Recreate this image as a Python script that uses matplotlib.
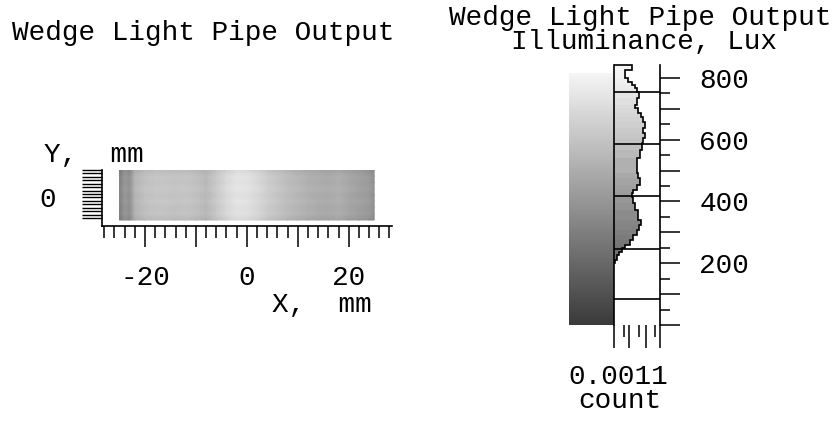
import numpy as np
import matplotlib.pyplot as plt
from matplotlib.colors import LinearSegmentedColormap, Normalize
from matplotlib.cm import ScalarMappable

plt.rcParams['font.family'] = ['Liberation Mono', 'DejaVu Sans Mono']

# illuminance across the wedge exit face (lux), sampled along X at several rows
img_x = [-25, -24, -23, -22, -20, -18, -16, -14, -12, -10, -8, -6, -4, -2,
         0, 2, 4, 6, 8, 10, 12, 14, 16, 18, 20, 22, 24, 25]
x_profile = [305, 410, 375, 532, 585, 602, 602, 593, 602, 585, 550, 620, 689, 733,
             724, 689, 637, 602, 567, 541, 515, 497, 489, 506, 471, 445, 419, 375]
img_y = [-5.0, -3.75, -2.5, -1.25, 0.0, 1.25, 2.5, 3.75, 5.0]
row_offset = [-45, 5, -10, 15, -5, 20, 0, 10, -40]

# histogram of illuminance values (bin edges in lux, top to bottom)
hist_edges = [842, 826, 799, 788, 777, 767, 756, 734, 712, 702, 686, 675, 658,
              637, 621, 605, 588, 567, 540, 491, 476, 453, 437, 427, 416, 394,
              372, 340, 324, 308, 292, 275, 259, 248, 237, 227, 211, 200]
hist_counts = [4.23, 2.63, 3.42, 4.23, 5.02, 5.43, 6.05, 5.43, 5.02, 5.81, 6.38,
               7.01, 7.41, 7.01, 7.41, 7.01, 6.62, 6.22, 5.43, 5.81, 6.22, 5.43,
               4.61, 4.23, 4.61, 5.02, 5.81, 6.38, 6.05, 5.43, 4.61, 3.83, 2.63,
               1.84, 1.27, 0.65, 0.31]
count_max = 0.0011
level_lines = [83, 246, 419, 586, 755]
lux_ticks = [0, 100, 200, 300, 400, 500, 600, 700, 800]
lux_labels = ['', '', '200', '', '400', '', '600', '', '800']

W, H = 838, 421
FS = 20
LW = 1.2


def rect(x0, y0, x1, y1):
    return [x0 / W, 1 - y1 / H, (x1 - x0) / W, (y1 - y0) / H]


def put(x, y, s, ha='center'):
    fig.text(x / W, 1 - y / H, s, ha=ha, va='center', fontsize=FS)


gray_map = LinearSegmentedColormap.from_list('lux', ['#3a3a3a', '#f5f5f5'])
norm = Normalize(0, 816)

fig = plt.figure(figsize=(W / 100, H / 100), dpi=100)

# --- raster map ---
ax = fig.add_axes(rect(101.7, 170, 392, 226))
Z = np.array(x_profile)[None, :] + np.array(row_offset)[:, None]
ax.pcolormesh(img_x, img_y, Z, cmap=gray_map, norm=norm, shading='gouraud')
ax.set_xlim(-28.5, 28.5)
ax.set_ylim(-6.2, 5.0)
for s in ['top', 'right']:
    ax.spines[s].set_visible(False)
for s in ['left', 'bottom']:
    ax.spines[s].set_linewidth(LW)
ax.set_xticks([-20, -10, 0, 10, 20], labels=['-20', '', '0', '', '20'])
ax.set_xticks(np.arange(-28, 29, 2), minor=True)
ax.tick_params(axis='x', which='major', length=15, width=1.1, pad=13, labelsize=FS)
ax.tick_params(axis='x', which='minor', length=8.6, width=1.1)
ax.set_yticks(np.linspace(-4.6, 5.0, 15), labels=[])
ax.tick_params(axis='y', length=14.4, width=1.0)

put(203, 33, 'Wedge Light Pipe Output')
put(44, 155, 'Y,  mm', ha='left')
put(48, 200, '0')
put(372, 305, 'X,  mm', ha='right')

# --- colour scale ---
gax = fig.add_axes(rect(569, 73, 614, 325))
cb = fig.colorbar(ScalarMappable(norm=norm, cmap=gray_map), cax=gax)
cb.outline.set_visible(False)
gax.set_yticks([])

# --- illuminance histogram ---
hax = fig.add_axes(rect(614, 65, 660, 325))
hax.patch.set_alpha(0)
edges = np.array(hist_edges[::-1], dtype=float)
counts = np.array(hist_counts[::-1]) * 1e-4
centers = (edges[:-1] + edges[1:]) / 2
hax.barh(centers, counts, height=np.diff(edges), color=gray_map(norm(centers)),
         edgecolor='none')
hax.stairs(counts, edges, orientation='horizontal', baseline=0, color='black',
           lw=LW, clip_on=False)
for v in level_lines:
    hax.axhline(v, color='black', lw=LW)
hax.set_xlim(0, count_max)
hax.set_ylim(0, 842)
for s in ['top', 'bottom']:
    hax.spines[s].set_visible(False)
for s in ['left', 'right']:
    hax.spines[s].set_linewidth(LW)
hax.yaxis.tick_right()
hax.set_yticks(lux_ticks, labels=lux_labels)
hax.set_yticks([50, 150, 250, 350, 450, 550, 650, 750], minor=True)
hax.tick_params(axis='y', which='major', length=14.4, width=1.1, pad=14, labelsize=FS)
hax.tick_params(axis='y', which='minor', length=7.2, width=1.1)
hax.set_xticks([0, 0.00036, 0.00077, 0.0011], labels=[])
hax.set_xticks([0.00024, 0.0006, 0.00099], minor=True)
hax.tick_params(axis='x', which='major', length=16.5, width=1.1)
hax.tick_params(axis='x', which='minor', length=8.6, width=1.1)

put(640, 18, 'Wedge Light Pipe Output')
put(644, 42, 'Illuminance, Lux')
put(618, 377, '0.0011')
put(620, 401, 'count')

fig.savefig('out.png', dpi=100)
